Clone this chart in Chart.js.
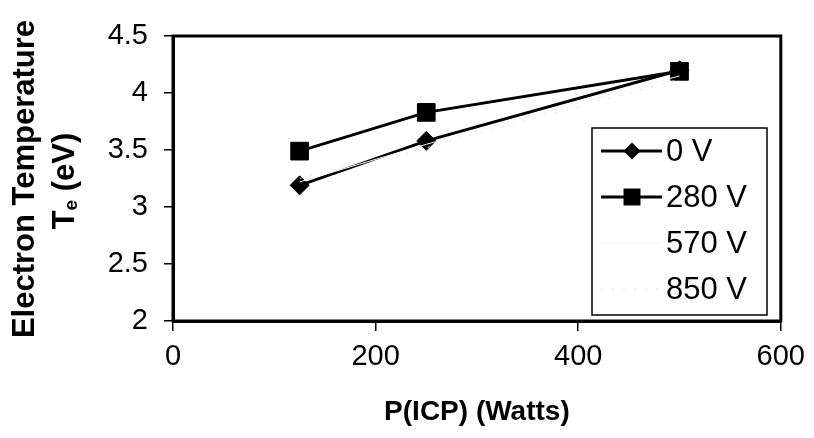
<!DOCTYPE html>
<html>
<head>
<meta charset="utf-8">
<title>Electron Temperature vs P(ICP)</title>
<script src="https://cdn.jsdelivr.net/npm/chart.js@4.4.1/dist/chart.umd.min.js"></script>
<style>
  html, body { margin: 0; padding: 0; background: #ffffff; }
  #wrap { width: 814px; height: 438px; }
</style>
</head>
<body>
<div id="wrap"><canvas id="c" width="814" height="438"></canvas></div>
<script>
// ICP power (W) and measured electron temperature (eV) per bias voltage
const powerW = [125, 250, 500];
const te0V   = [3.19, 3.58, 4.20];
const te280V = [3.49, 3.83, 4.19];
const te570V = [3.22, 3.55, 4.15];
const te850V = [3.25, 3.52, 4.12];
const seriesLabels = ['0 V', '280 V', '570 V', '850 V'];
const xTickValues = [0, 200, 400, 600];
const yTickValues = [2, 2.5, 3, 3.5, 4, 4.5];

const FONT = '"Liberation Sans", Arial, Helvetica, sans-serif';

function pts(ys) { return powerW.map((x, i) => ({ x: x, y: ys[i] })); }

const seriesStyles = [
  { color: '#000000', width: 3, point: 'rectRot', radius: 9.5, legendRadius: 8.5, dash: [] },
  { color: '#000000', width: 3, point: 'rect', radius: 12.5, legendRadius: 12, dash: [] },
  { color: '#f5f5f5', width: 1, point: false, radius: 0, legendRadius: 0, dash: [] },
  { color: '#e4e4e4', width: 1, point: false, radius: 0, legendRadius: 0, dash: [2, 9] }
];
const seriesValues = [te0V, te280V, te570V, te850V];

const datasets = seriesValues.map((vals, i) => {
  const s = seriesStyles[i];
  return {
    label: seriesLabels[i],
    data: pts(vals),
    borderColor: s.color,
    backgroundColor: s.color,
    borderWidth: s.width,
    borderDash: s.dash,
    pointStyle: s.point || 'circle',
    pointRadius: s.radius,
    pointBorderWidth: 1,
    pointBorderColor: s.color,
    pointBackgroundColor: s.color,
    tension: 0,
    order: 4 - i
  };
});

function drawMarker(ctx, style, x, y, r, color) {
  if (!style || r <= 0) return;
  ctx.save();
  ctx.fillStyle = color;
  ctx.beginPath();
  if (style === 'rectRot') {
    ctx.moveTo(x - r, y); ctx.lineTo(x, y - r); ctx.lineTo(x + r, y); ctx.lineTo(x, y + r);
    ctx.closePath();
  } else if (style === 'rect') {
    const h = r * Math.SQRT1_2;
    ctx.rect(x - h, y - h, 2 * h, 2 * h);
  }
  ctx.fill();
  ctx.restore();
}

// Frame round the plot area, axis titles and the boxed legend
const decorations = {
  id: 'decorations',
  beforeDatasetsDraw(chart) {
    const { ctx, chartArea: a } = chart;
    ctx.save();
    ctx.strokeStyle = '#000';
    ctx.lineWidth = 3;
    ctx.strokeRect(a.left, a.top, a.right - a.left, a.bottom - a.top);
    ctx.restore();
  },
  afterDraw(chart) {
    const { ctx, chartArea: a } = chart;
    ctx.save();
    ctx.fillStyle = '#000';

    // x-axis title
    ctx.font = 'bold 28px ' + FONT;
    ctx.textAlign = 'center';
    ctx.textBaseline = 'middle';
    ctx.fillText('P(ICP) (Watts)', (a.left + a.right) / 2, 412);

    // y-axis title, two rotated lines
    ctx.save();
    ctx.translate(25, 179);
    ctx.rotate(-Math.PI / 2);
    ctx.font = 'bold 31px ' + FONT;
    ctx.textAlign = 'center';
    ctx.textBaseline = 'middle';
    ctx.fillText('Electron Temperature', 0, 0);
    ctx.restore();

    ctx.save();
    ctx.translate(65, 181);
    ctx.rotate(-Math.PI / 2);
    ctx.textBaseline = 'middle';
    ctx.textAlign = 'left';
    const big = 'bold 31px ' + FONT, small = 'bold 19px ' + FONT;
    ctx.font = big; const wT = ctx.measureText('T').width;
    ctx.font = small; const wE = ctx.measureText('e').width;
    ctx.font = big; const wR = ctx.measureText(' (eV)').width;
    let x0 = -(wT + wE + wR) / 2;
    ctx.font = big; ctx.fillText('T', x0, 0);
    ctx.font = small; ctx.fillText('e', x0 + wT, 7);
    ctx.font = big; ctx.fillText(' (eV)', x0 + wT + wE, 0);
    ctx.restore();

    // legend box
    const bx = 592, by = 128, bw = 175, bh = 187;
    ctx.fillStyle = '#fff';
    ctx.fillRect(bx, by, bw, bh);
    ctx.strokeStyle = '#000';
    ctx.lineWidth = 1.5;
    ctx.strokeRect(bx, by, bw, bh);
    chart.data.datasets.forEach((ds, i) => {
      const s = seriesStyles[i];
      const y = 151 + i * 46;
      ctx.save();
      ctx.strokeStyle = s.color;
      ctx.lineWidth = s.width;
      ctx.setLineDash(s.dash);
      ctx.beginPath();
      ctx.moveTo(601, y);
      ctx.lineTo(662, y);
      ctx.stroke();
      ctx.restore();
      drawMarker(ctx, s.point, 632, y, s.legendRadius, s.color);
      ctx.fillStyle = '#000';
      ctx.font = '31px ' + FONT;
      ctx.textAlign = 'left';
      ctx.textBaseline = 'middle';
      ctx.fillText(ds.label, 666, y + 1);
    });
    ctx.restore();
  }
};

new Chart(document.getElementById('c'), {
  type: 'line',
  data: { datasets: datasets },
  plugins: [decorations],
  options: {
    responsive: false,
    animation: false,
    devicePixelRatio: 1,
    layout: { padding: { left: 0, right: 31, top: 36, bottom: 0 } },
    plugins: { legend: { display: false }, tooltip: { enabled: false } },
    scales: {
      x: {
        type: 'linear',
        min: 0, max: 600,
        afterBuildTicks: s => { s.ticks = xTickValues.map(v => ({ value: v })); },
        afterFit: s => { s.height = 117; },
        ticks: { color: '#000', font: { family: FONT, size: 29 }, padding: 9, maxRotation: 0 },
        grid: { display: true, drawOnChartArea: false, drawTicks: true, tickLength: 10, color: '#000', lineWidth: 1.5 },
        border: { display: true, color: '#000', width: 3 }
      },
      y: {
        type: 'linear',
        min: 2, max: 4.5,
        afterBuildTicks: s => { s.ticks = yTickValues.map(v => ({ value: v })); },
        afterFit: s => { s.width = 173; },
        ticks: { color: '#000', font: { family: FONT, size: 29 }, padding: 16, callback: v => String(v) },
        grid: { display: true, drawOnChartArea: false, drawTicks: true, tickLength: 9, color: '#000', lineWidth: 1.5 },
        border: { display: true, color: '#000', width: 3 }
      }
    }
  }
});
</script>
</body>
</html>
